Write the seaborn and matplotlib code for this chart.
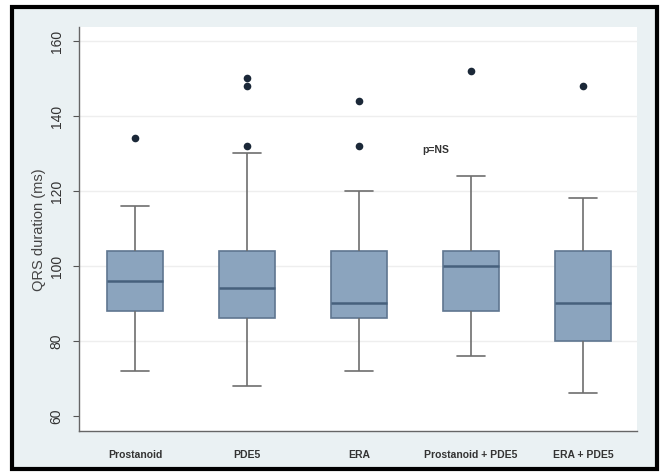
import matplotlib
matplotlib.use("Agg")
import matplotlib.pyplot as plt
import seaborn as sns
import pandas as pd
from matplotlib.patches import Rectangle

# Data (five-number summaries and outliers, ms)
groups = ["Prostanoid", "PDE5", "ERA", "Prostanoid + PDE5", "ERA + PDE5"]
whisker_low = [72, 68, 72, 76, 66]
q1 = [88, 86, 86, 88, 80]
median = [96, 94, 90, 100, 90]
q3 = [104, 104, 104, 104, 104]
whisker_high = [116, 130, 120, 124, 118]
outlier_group = ["Prostanoid", "PDE5", "PDE5", "PDE5", "ERA", "ERA",
                 "Prostanoid + PDE5", "ERA + PDE5"]
outlier_value = [134, 132, 148, 150, 132, 144, 152, 148]
yticks = [60, 80, 100, 120, 140, 160]
annotation = "p=NS"

sns.set_theme(style="white")
plt.rcParams["font.family"] = ["Liberation Sans", "DejaVu Sans"]

# table of summary points per group (5 points -> exact quartiles)
rows = []
for g, a, b, c, d, e in zip(groups, whisker_low, q1, median, q3, whisker_high):
    for v in (a, b, c, d, e):
        rows.append({"group": g, "qrs": v})
df = pd.DataFrame(rows)
out_df = pd.DataFrame({"group": outlier_group, "qrs": outlier_value})

fig = plt.figure(figsize=(6.67, 4.77), dpi=100)
fig.patch.set_facecolor("white")
W, H = 667, 477
fig.patches.append(Rectangle((12 / W, 1 - 470 / H), (657 - 12) / W, (470 - 8) / H,
                             transform=fig.transFigure, facecolor="#eaf1f3",
                             edgecolor="black", linewidth=3, zorder=-10))

ax = fig.add_axes([79 / W, 1 - 432 / H, (637 - 79) / W, (432 - 28) / H])
ax.set_zorder(5)
ax.set_facecolor("white")

box_fill = "#8ba4be"
sns.boxplot(data=df, x="group", y="qrs", order=groups, ax=ax, width=0.5,
            whis=(0, 100), showfliers=False, color=box_fill, saturation=1,
            boxprops=dict(facecolor=box_fill, edgecolor="#5f7690", linewidth=1.2),
            medianprops=dict(color="#46607c", linewidth=1.8),
            whiskerprops=dict(color="#6e6e6e", linewidth=1.2),
            capprops=dict(color="#6e6e6e", linewidth=1.2))
sns.stripplot(data=out_df, x="group", y="qrs", order=groups, ax=ax, jitter=False,
              color="#1b2838", size=5.5, linewidth=0, zorder=5)

ax.set_ylim(55.9, 163.6)
ax.set_xlim(-0.5, 4.48)
ax.set_yticks(yticks)
ax.set_yticklabels([str(t) for t in yticks], rotation=90, va="center",
                   fontsize=10, color="#333333")
ax.tick_params(axis="y", which="both", left=True, length=4, width=0.8,
               color="#555555", pad=7)
ax.tick_params(axis="x", bottom=False, labelsize=7.5, labelcolor="#333333", pad=7)
for t in ax.get_xticklabels():
    t.set_fontweight("bold")

for y in yticks[1:]:
    ax.axhline(y, color="#eeeeee", linewidth=1, zorder=0)

ax.set_xlabel("")
ax.set_ylabel("QRS duration (ms)", fontsize=10.5, color="#444444", labelpad=3)

for side in ["top", "right"]:
    ax.spines[side].set_visible(False)
for side in ["left", "bottom"]:
    ax.spines[side].set_color("#666666")
    ax.spines[side].set_linewidth(1)

ax.text(2.56, 131, annotation, fontsize=7.5, color="#333333", ha="left",
        va="center", fontweight="bold")

fig.savefig("out.png", dpi=100)
